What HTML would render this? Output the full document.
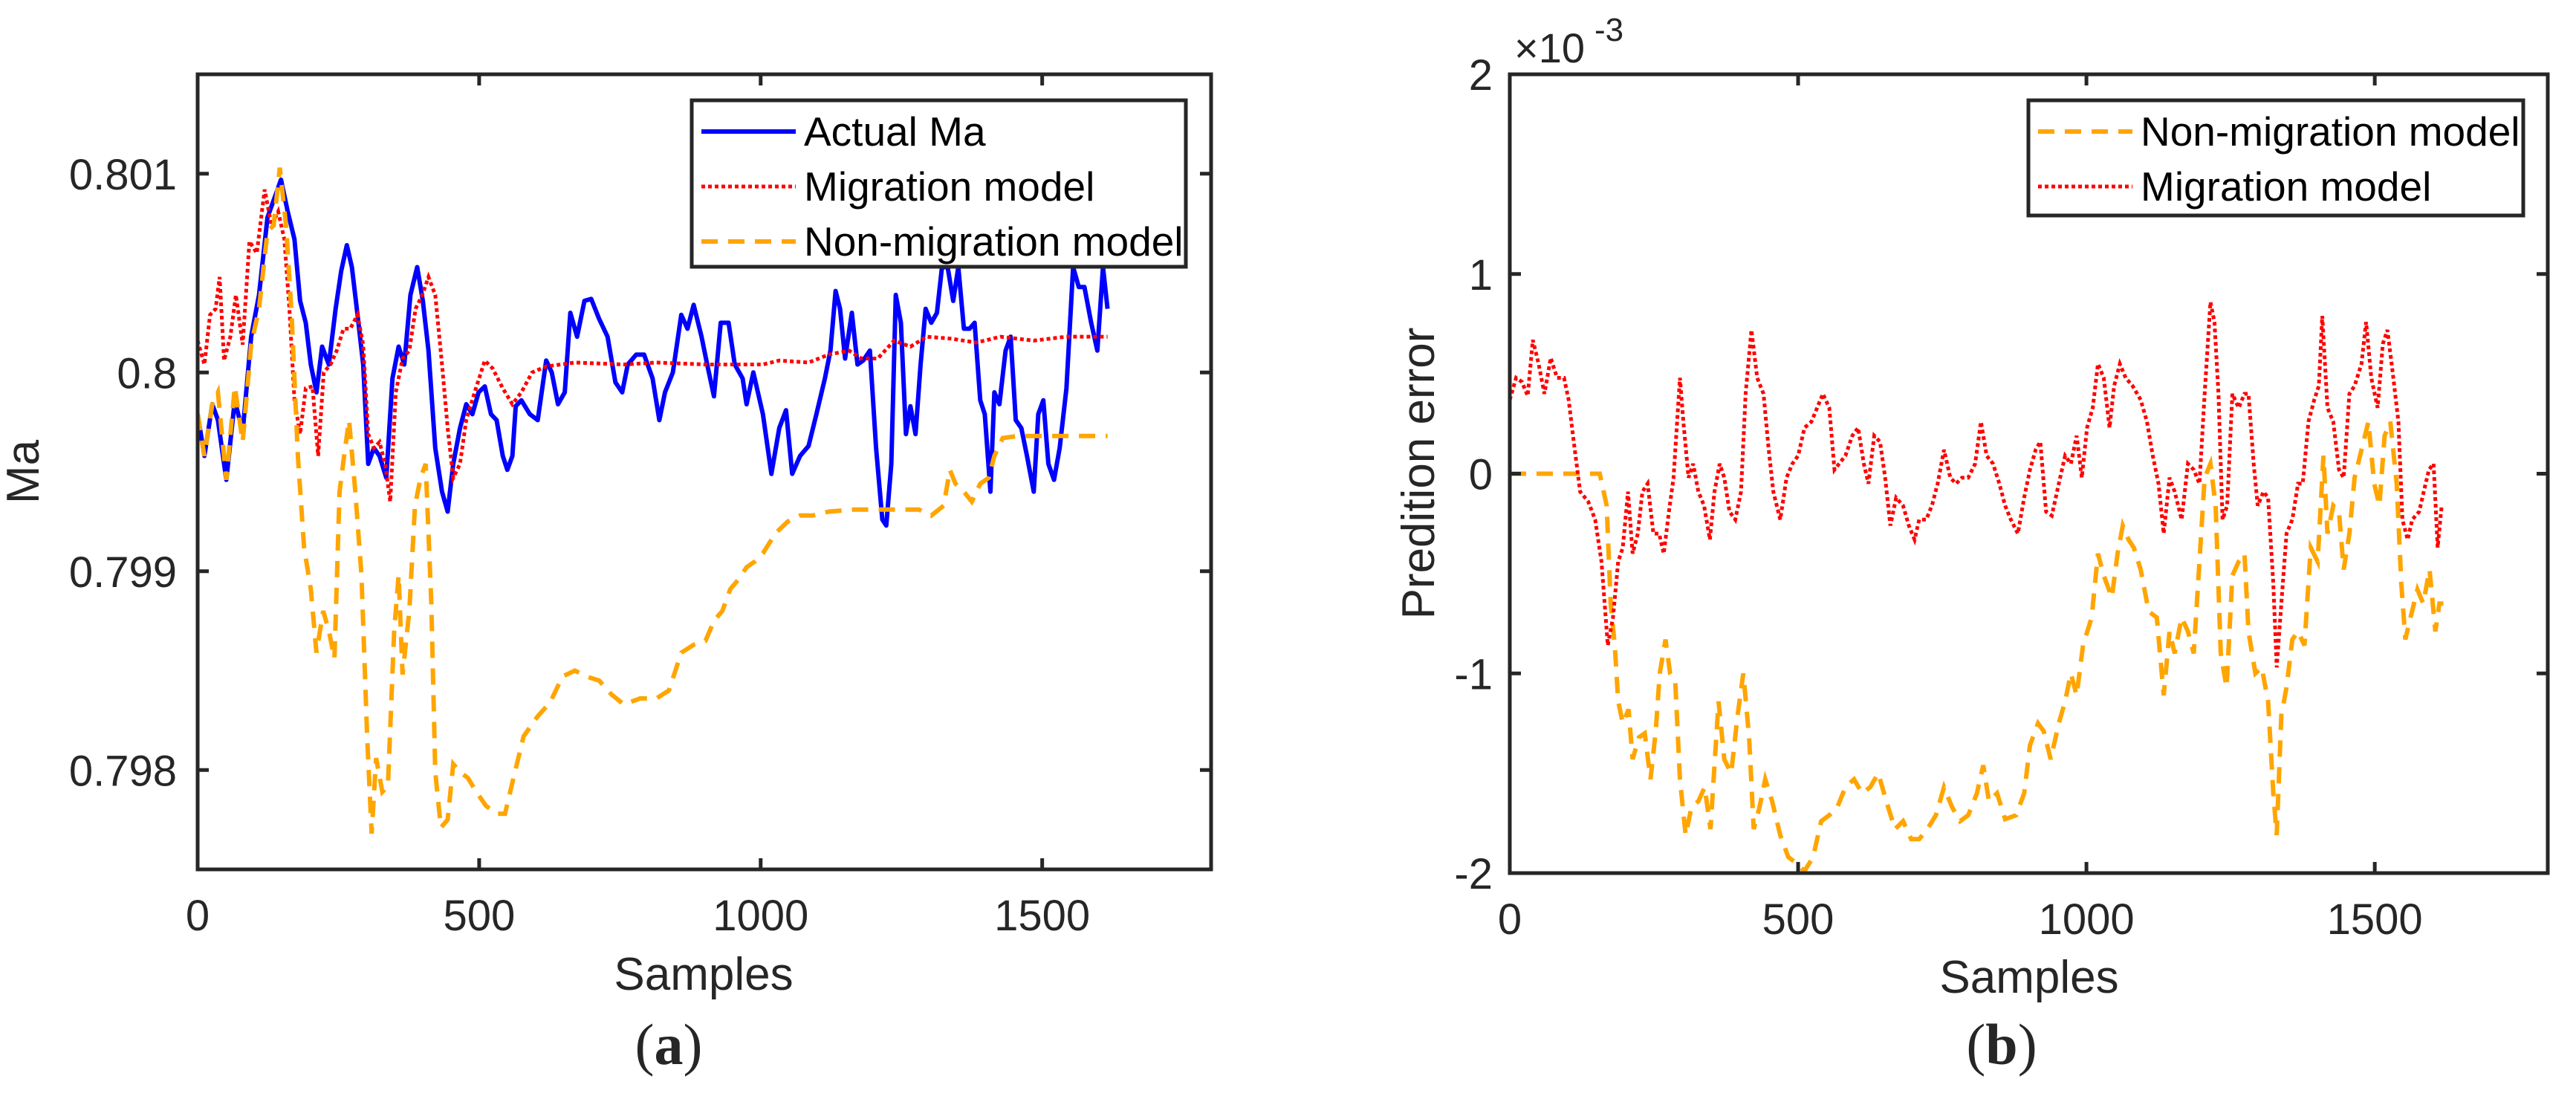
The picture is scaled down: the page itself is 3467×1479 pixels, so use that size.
<!DOCTYPE html>
<html><head><meta charset="utf-8"><style>
html,body{margin:0;padding:0;background:#fff;}
svg{display:block;font-family:"Liberation Sans",Arial,sans-serif;}
</style></head><body>
<svg id="fig" width="3467" height="1479" viewBox="0 0 3467 1479" xmlns="http://www.w3.org/2000/svg">
<defs>
<clipPath id="clipA"><rect x="266" y="100" width="1364" height="1070"/></clipPath>
<clipPath id="clipB"><rect x="2032" y="100" width="1397" height="1075"/></clipPath>
</defs>
<g id="panelA"></g>
<g id="panelB"></g>
</svg>
<script>
// ---------- Panel (a) data ----------
const aActualX = [0,12,26,36,51,66,80,95,109,124,138,148,160,172,182,192,201,211,221,233,245,255,265,274,284,294,303,313,323,335,346,357,367,378,390,400,410,422,434,444,454,466,477,488,499,510,521,531,542,550,559,565,575,590,604,619,629,640,652,662,674,687,699,713,728,742,754,764,779,793,808,820,830,844,859,870,881,895,905,917,929,943,954,968,975,987,1004,1019,1033,1045,1056,1070,1085,1099,1114,1124,1133,1141,1150,1162,1172,1182,1194,1205,1216,1223,1232,1240,1249,1258,1266,1275,1284,1293,1303,1313,1322,1332,1342,1351,1361,1371,1380,1390,1398,1408,1415,1424,1435,1444,1453,1463,1473,1485,1493,1502,1511,1521,1531,1543,1555,1565,1575,1587,1598,1608,1616];
const aActualDev = [-0.21,-0.42,-0.16,-0.24,-0.54,-0.14,-0.30,0.18,0.39,0.78,0.89,0.97,0.81,0.67,0.36,0.25,0.04,-0.10,0.13,0.04,0.32,0.51,0.64,0.53,0.29,0.04,-0.46,-0.38,-0.42,-0.53,-0.03,0.13,0.04,0.39,0.53,0.36,0.11,-0.38,-0.60,-0.70,-0.46,-0.28,-0.16,-0.21,-0.10,-0.07,-0.21,-0.24,-0.42,-0.49,-0.42,-0.17,-0.14,-0.21,-0.24,0.06,0.00,-0.16,-0.10,0.30,0.18,0.36,0.37,0.27,0.18,-0.05,-0.10,0.04,0.09,0.09,-0.03,-0.24,-0.10,0.00,0.29,0.22,0.34,0.18,0.04,-0.12,0.25,0.25,0.04,-0.03,-0.16,0.00,-0.21,-0.51,-0.28,-0.19,-0.51,-0.42,-0.37,-0.21,-0.03,0.11,0.41,0.32,0.07,0.30,0.04,0.06,0.11,-0.38,-0.74,-0.77,-0.46,0.39,0.25,-0.31,-0.17,-0.31,0.04,0.32,0.25,0.30,0.53,0.53,0.36,0.53,0.22,0.22,0.25,-0.14,-0.21,-0.60,-0.10,-0.16,0.11,0.18,-0.24,-0.28,-0.42,-0.60,-0.21,-0.14,-0.46,-0.54,-0.38,-0.08,0.53,0.43,0.43,0.25,0.11,0.53,0.32];
const aMigX = [0,12,22,32,39,47,58,68,80,92,105,119,131,143,154,163,172,182,192,204,214,224,236,247,259,271,284,294,303,313,323,333,342,352,364,376,387,399,410,422,434,444,454,466,477,492,510,524,542,559,575,594,619,670,757,815,902,1004,1033,1085,1121,1157,1179,1208,1237,1266,1295,1339,1383,1426,1485,1543,1616];
const aMigDev = [0.16,0.04,0.29,0.32,0.48,0.06,0.18,0.39,0.14,0.66,0.60,0.92,0.74,0.81,0.67,0.32,-0.14,-0.31,-0.08,-0.07,-0.42,0.00,0.04,0.11,0.22,0.22,0.29,0.14,-0.31,-0.38,-0.35,-0.46,-0.65,-0.10,0.07,0.11,0.32,0.39,0.48,0.39,0.04,-0.28,-0.53,-0.46,-0.24,-0.10,0.06,0.02,-0.08,-0.16,-0.10,0.00,0.03,0.05,0.04,0.05,0.04,0.04,0.06,0.05,0.09,0.11,0.07,0.07,0.16,0.13,0.18,0.17,0.15,0.18,0.16,0.18,0.18];
const aNonX = [0,12,26,36,51,66,80,95,109,124,135,146,157,167,178,189,201,211,223,233,243,252,262,269,280,291,301,309,317,328,338,349,357,364,376,386,396,405,415,422,432,444,454,466,480,495,512,531,546,561,579,604,626,648,670,691,713,735,757,786,815,837,859,881,902,917,932,946,961,975,990,1004,1026,1048,1070,1092,1121,1165,1223,1281,1303,1325,1336,1346,1361,1375,1390,1405,1415,1430,1456,1514,1616];
const aNonDev = [-0.21,-0.42,-0.16,-0.10,-0.54,-0.07,-0.35,0.14,0.32,0.71,0.74,1.03,0.74,0.29,-0.42,-0.88,-1.09,-1.41,-1.20,-1.30,-1.44,-0.60,-0.38,-0.24,-0.60,-1.02,-1.83,-2.32,-1.94,-2.11,-2.08,-1.30,-1.02,-1.52,-1.20,-0.67,-0.53,-0.46,-1.16,-2.01,-2.29,-2.25,-1.97,-2.01,-2.04,-2.11,-2.18,-2.22,-2.22,-2.04,-1.83,-1.73,-1.66,-1.53,-1.50,-1.53,-1.55,-1.62,-1.67,-1.64,-1.64,-1.60,-1.41,-1.37,-1.35,-1.25,-1.20,-1.09,-1.04,-0.98,-0.95,-0.91,-0.81,-0.75,-0.72,-0.72,-0.70,-0.69,-0.69,-0.69,-0.72,-0.67,-0.49,-0.56,-0.60,-0.65,-0.56,-0.53,-0.42,-0.33,-0.32,-0.32,-0.32];
const aYTicks = [0.798,0.799,0.8,0.801];
const aYTickLabels = ["0.798","0.799","0.8","0.801"];
const xTicks = [0,500,1000,1500];
const xTickLabels = ["0","500","1000","1500"];

// ---------- Panel (b) data ----------
const bNonX = [0,156,168,175,182,188,196,206,213,224,234,244,253,260,270,278,287,295,305,315,327,338,348,355,362,372,384,395,405,415,423,433,443,455,469,483,497,511,526,540,554,568,582,597,611,625,639,653,668,682,696,710,724,739,753,767,781,795,810,821,831,845,859,878,892,902,916,926,938,952,963,973,983,994,1009,1020,1030,1044,1054,1063,1073,1082,1094,1108,1122,1134,1144,1153,1165,1176,1186,1196,1205,1215,1224,1233,1243,1253,1264,1274,1281,1293,1304,1315,1324,1330,1338,1347,1357,1367,1378,1389,1401,1411,1418,1428,1438,1446,1456,1465,1477,1489,1499,1508,1517,1527,1538,1546,1553,1562,1574,1584,1595,1605,1612,1619];
const bNonErr = [0,0,-0.16,-0.65,-0.86,-1.14,-1.25,-1.18,-1.43,-1.32,-1.30,-1.53,-1.29,-1.00,-0.83,-1.00,-1.04,-1.53,-1.81,-1.67,-1.64,-1.57,-1.78,-1.46,-1.14,-1.43,-1.50,-1.21,-1.00,-1.32,-1.78,-1.67,-1.53,-1.64,-1.81,-1.92,-1.95,-1.99,-1.92,-1.74,-1.71,-1.67,-1.57,-1.53,-1.60,-1.57,-1.50,-1.64,-1.78,-1.74,-1.83,-1.83,-1.78,-1.71,-1.57,-1.67,-1.74,-1.71,-1.60,-1.46,-1.64,-1.60,-1.73,-1.71,-1.60,-1.36,-1.25,-1.29,-1.43,-1.25,-1.14,-1.00,-1.11,-0.86,-0.72,-0.40,-0.51,-0.62,-0.40,-0.26,-0.33,-0.37,-0.48,-0.69,-0.72,-1.11,-0.79,-0.90,-0.72,-0.79,-0.90,-0.44,-0.02,0.05,-0.16,-0.90,-1.07,-0.51,-0.44,-0.40,-0.79,-1.00,-0.97,-1.14,-1.60,-1.81,-1.21,-1.07,-0.83,-0.79,-0.86,-0.37,-0.44,0.09,-0.30,-0.16,-0.19,-0.48,-0.30,-0.02,0.12,0.26,-0.05,-0.16,0.19,0.26,-0.05,-0.55,-0.83,-0.72,-0.58,-0.65,-0.48,-0.79,-0.65,-0.65];
const bMigX = [0,11,21,31,40,50,60,71,82,94,102,111,122,136,148,159,170,179,188,196,205,213,222,230,239,249,259,267,276,284,295,301,310,318,327,337,347,355,364,372,381,391,401,409,419,429,440,449,457,469,480,490,500,511,523,533,543,554,563,571,582,594,604,614,622,632,642,651,660,670,682,692,702,710,722,732,742,753,764,774,784,795,807,817,827,838,849,859,869,881,892,902,912,920,930,940,952,963,973,983,992,1001,1011,1020,1030,1040,1048,1058,1068,1080,1094,1105,1115,1125,1134,1144,1153,1165,1176,1186,1196,1205,1215,1222,1229,1236,1244,1253,1264,1274,1281,1290,1297,1307,1315,1324,1330,1338,1347,1357,1367,1375,1385,1395,1403,1409,1418,1428,1438,1446,1456,1465,1477,1485,1494,1505,1514,1522,1531,1541,1548,1557,1565,1577,1585,1594,1602,1609,1616];
const bMigErr = [0.37,0.48,0.46,0.39,0.67,0.55,0.40,0.58,0.48,0.48,0.37,0.16,-0.09,-0.14,-0.23,-0.44,-0.86,-0.72,-0.44,-0.37,-0.09,-0.40,-0.30,-0.09,-0.05,-0.30,-0.30,-0.40,-0.19,-0.02,0.48,0.26,-0.02,0.05,-0.09,-0.16,-0.33,-0.09,0.05,-0.02,-0.19,-0.23,-0.09,0.40,0.72,0.48,0.40,0.12,-0.09,-0.23,-0.02,0.05,0.09,0.23,0.26,0.33,0.40,0.33,0.02,0.05,0.09,0.19,0.23,0.05,-0.05,0.19,0.16,-0.02,-0.26,-0.12,-0.16,-0.26,-0.33,-0.23,-0.23,-0.16,-0.05,0.12,-0.02,-0.05,-0.02,-0.02,0.05,0.26,0.09,0.05,-0.05,-0.16,-0.23,-0.30,-0.12,0.02,0.12,0.16,-0.19,-0.21,-0.05,0.09,0.05,0.19,-0.02,0.23,0.33,0.55,0.48,0.23,0.44,0.55,0.48,0.44,0.37,0.26,0.09,-0.05,-0.30,-0.02,-0.09,-0.23,0.05,0.02,-0.05,0.40,0.86,0.76,0.40,-0.23,-0.16,0.40,0.33,0.40,0.40,0.05,-0.16,-0.09,-0.12,-0.55,-0.97,-0.65,-0.30,-0.23,-0.05,-0.05,0.26,0.37,0.44,0.79,0.33,0.26,0.02,-0.02,0.40,0.44,0.55,0.76,0.48,0.33,0.65,0.72,0.51,0.26,-0.23,-0.33,-0.23,-0.19,-0.09,0.02,0.05,-0.37,-0.16];
const bYTicks = [-2,-1,0,1,2];
const bYTickLabels = ["-2","-1","0","1","2"];

const NS = "http://www.w3.org/2000/svg";
const AX = "#262626";
function mk(tag, attrs, parent){const e=document.createElementNS(NS,tag);for(const k in attrs)e.setAttribute(k,attrs[k]);parent.appendChild(e);return e;}
function linear(d0,d1,r0,r1){return v=>r0+(v-d0)/(d1-d0)*(r1-r0);}

const ax = {L:266,R:1630,T:100,B:1170};
const axX = linear(0,1800,ax.L,ax.R);
const axY = linear(0.7975,0.8015,ax.B,ax.T);
const bx = {L:2032,R:3429,T:100,B:1175};
const bxX = linear(0,1800,bx.L,bx.R);
const bxY = linear(-2,2,bx.B,bx.T);

function pathD(xs,ys,fx,fy){let d="";for(let i=0;i<xs.length;i++){d+=(i?"L":"M")+fx(xs[i]).toFixed(1)+","+fy(ys[i]).toFixed(1);}return d;}

const gA=document.getElementById("panelA");
const gB=document.getElementById("panelB");

const seriesA = mk("g",{"clip-path":"url(#clipA)"},gA);


const devToMa = d=>0.8+d/1000;
let p = mk("path",{d:pathD(aActualX,aActualDev.map(devToMa),axX,axY),fill:"none",stroke:"#0000ff","stroke-width":6,"stroke-linejoin":"round"},seriesA);


p = mk("path",{d:pathD(aMigX,aMigDev.map(devToMa),axX,axY),fill:"none",stroke:"#ff0000","stroke-width":5,"stroke-dasharray":"5 4"},seriesA);


p = mk("path",{d:pathD(aNonX,aNonDev.map(devToMa),axX,axY),fill:"none",stroke:"#ffa500","stroke-width":6,"stroke-dasharray":"22 14"},seriesA);



const seriesB = mk("g",{"clip-path":"url(#clipB)"},gB);


p = mk("path",{d:pathD(bNonX,bNonErr,bxX,bxY),fill:"none",stroke:"#ffa500","stroke-width":6,"stroke-dasharray":"22 14"},seriesB);


p = mk("path",{d:pathD(bMigX,bMigErr,bxX,bxY),fill:"none",stroke:"#ff0000","stroke-width":5,"stroke-dasharray":"5 4"},seriesB);



function axes(g,b,fx,fy,yt,ytl,yLabelX,prefix){
  const box = mk("rect",{x:b.L,y:b.T,width:b.R-b.L,height:b.B-b.T,fill:"none",stroke:AX,"stroke-width":5},g);
  
  
  for(let i=0;i<xTicks.length;i++){
    const x=fx(xTicks[i]);
    const t1=mk("line",{x1:x,x2:x,y1:b.B,y2:b.B-15,stroke:AX,"stroke-width":5},g);
    
    
    const t2=mk("line",{x1:x,x2:x,y1:b.T,y2:b.T+15,stroke:AX,"stroke-width":5},g);
    
    
    const tx=mk("text",{x:x,y:b.B+82,"font-size":58,fill:AX,"text-anchor":"middle"},g);
    tx.textContent=xTickLabels[i];
    
    
  }
  for(let i=0;i<yt.length;i++){
    const y=fy(yt[i]);
    const t1=mk("line",{x1:b.L,x2:b.L+15,y1:y,y2:y,stroke:AX,"stroke-width":5},g);
    
    
    const t2=mk("line",{x1:b.R,x2:b.R-15,y1:y,y2:y,stroke:AX,"stroke-width":5},g);
    
    
    const tx=mk("text",{x:yLabelX,y:y+21,"font-size":58,fill:AX,"text-anchor":"end"},g);
    tx.textContent=ytl[i];
    
    
  }
}
axes(gA,ax,axX,axY,aYTicks,aYTickLabels,238,'a');
axes(gB,bx,bxX,bxY,bYTicks,bYTickLabels,2009,'b');

function txt(parent,x,y,size,str,name,extra){const e=document.createElementNS(NS,"text");e.setAttribute("x",x);e.setAttribute("y",y);e.setAttribute("font-size",size);e.setAttribute("fill",AX);if(extra)for(const k in extra)e.setAttribute(k,extra[k]);e.textContent=str;parent.appendChild(e);return e;}
let t;
t=txt(gA,947,1332,62,"Samples","x-axis-title-a",{"text-anchor":"middle"});
t=txt(gA,52,635,62,"Ma","y-axis-title-a",{"text-anchor":"middle",transform:"rotate(-90 52 635)"});
t=txt(gA,900,1432,78,"","panel-label-a",{"text-anchor":"middle","font-family":"Liberation Serif, serif"});
t.innerHTML='(<tspan font-weight="bold">a</tspan>)';
t=txt(gB,2731,1336,62,"Samples","x-axis-title-b",{"text-anchor":"middle"});
t=txt(gB,1930,637,62,"Predition error","y-axis-title-b",{"text-anchor":"middle",transform:"rotate(-90 1930 637)"});
t=txt(gB,2694,1432,78,"","panel-label-b",{"text-anchor":"middle","font-family":"Liberation Serif, serif"});
t.innerHTML='(<tspan font-weight="bold">b</tspan>)';
t=txt(gB,2038,84,56,"×10","exponent-label",{});
t=txt(gB,2146,55,44,"-3","exponent-superscript",{});

function legend(parent,x,y,w,h,entries,name){
  const g=document.createElementNS(NS,"g");parent.appendChild(g);
  
  
  const r=document.createElementNS(NS,"rect");
  r.setAttribute("x",x);r.setAttribute("y",y);r.setAttribute("width",w);r.setAttribute("height",h);
  r.setAttribute("fill","#fff");r.setAttribute("stroke",AX);r.setAttribute("stroke-width",5);g.appendChild(r);
  
  
  entries.forEach((en,i)=>{
    const cy=y+42+i*74;
    const l=document.createElementNS(NS,"line");
    l.setAttribute("x1",x+13);l.setAttribute("x2",x+140);l.setAttribute("y1",cy);l.setAttribute("y2",cy);
    l.setAttribute("stroke",en.c);l.setAttribute("stroke-width",en.w);if(en.d)l.setAttribute("stroke-dasharray",en.d);
    g.appendChild(l);
    
    
    const tt=document.createElementNS(NS,"text");
    tt.setAttribute("x",x+151);tt.setAttribute("y",cy+19);tt.setAttribute("font-size",55);tt.setAttribute("fill","#000");
    tt.textContent=en.t;g.appendChild(tt);
    
    
  });
}
legend(gA,931,135,665,224,[
 {t:"Actual Ma",c:"#0000ff",w:6},
 {t:"Migration model",c:"#ff0000",w:5,d:"5 4"},
 {t:"Non-migration model",c:"#ffa500",w:6,d:"22 14"}],"legend-a");
legend(gB,2730,135,666,155,[
 {t:"Non-migration model",c:"#ffa500",w:6,d:"22 14"},
 {t:"Migration model",c:"#ff0000",w:5,d:"5 4"}],"legend-b");
</script>
</body></html>
